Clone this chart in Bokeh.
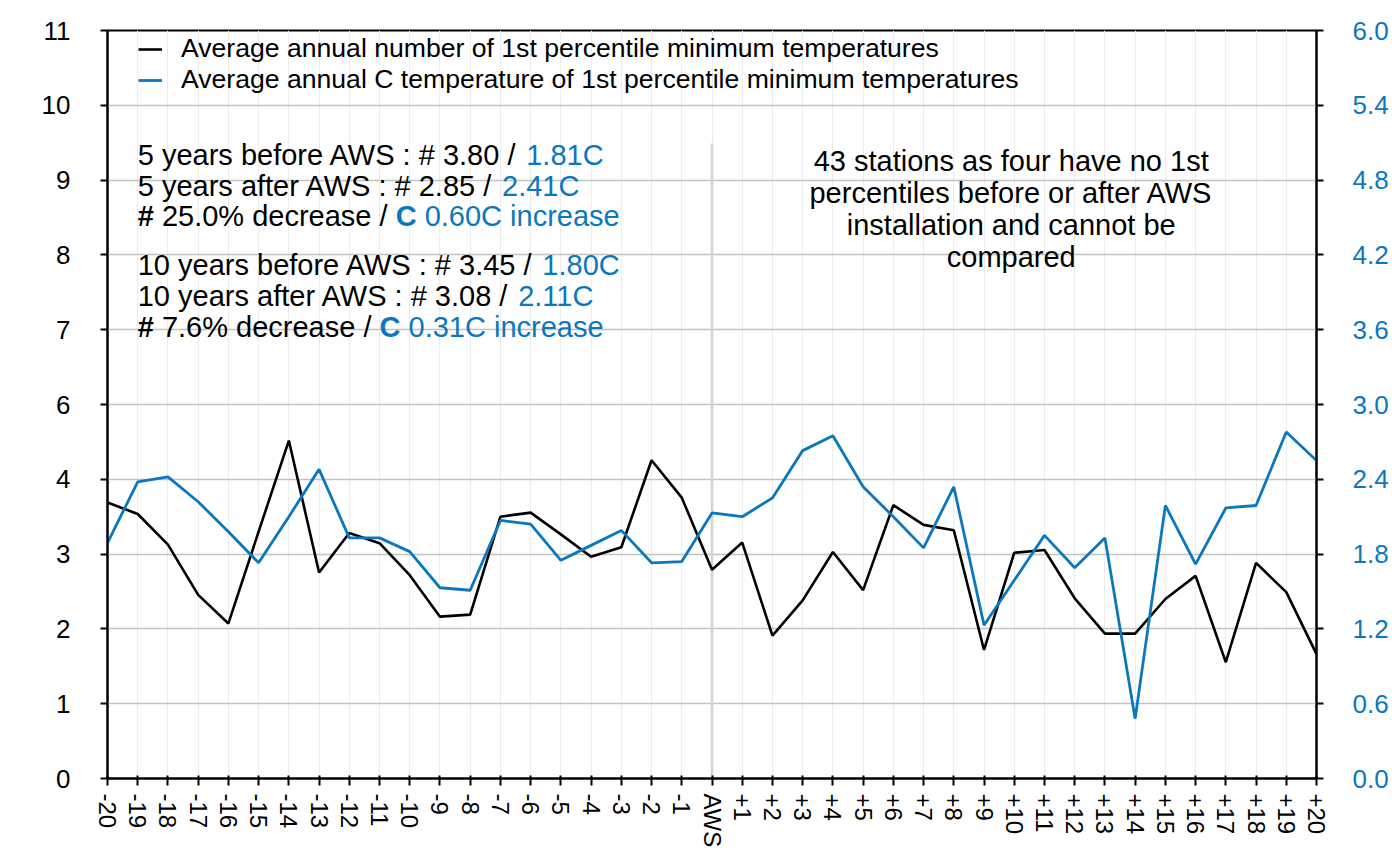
import math
from bokeh.plotting import figure
from bokeh.models import Range1d, LinearAxis, FixedTicker, Legend, LegendItem, Label
from bokeh.embed import file_html
from bokeh.resources import INLINE

# ---------------- data ----------------
years = [-20, -19, -18, -17, -16, -15, -14, -13, -12, -11, -10, -9, -8, -7, -6, -5, -4, -3, -2, -1,
         0, 1, 2, 3, 4, 5, 6, 7, 8, 9, 10, 11, 12, 13, 14, 15, 16, 17, 18, 19, 20]
x_tick_labels = ["-20", "-19", "-18", "-17", "-16", "-15", "-14", "-13", "-12", "-11", "-10",
                 "-9", "-8", "-7", "-6", "-5", "-4", "-3", "-2", "-1", "AWS",
                 "+1", "+2", "+3", "+4", "+5", "+6", "+7", "+8", "+9", "+10",
                 "+11", "+12", "+13", "+14", "+15", "+16", "+17", "+18", "+19", "+20"]

count_values = [4.06, 3.89, 3.44, 2.70, 2.28, 3.63, 4.97, 3.03, 3.61, 3.46,
                2.99, 2.38, 2.41, 3.85, 3.91, 3.59, 3.26, 3.40, 4.68, 4.13,
                3.07,
                3.47, 2.10, 2.62, 3.33, 2.77, 4.02, 3.73, 3.65, 1.89, 3.32,
                3.36, 2.65, 2.13, 2.13, 2.64, 2.98, 1.71, 3.17, 2.74, 1.83]

temp_values = [1.89, 2.38, 2.42, 2.22, 1.98, 1.73, 2.10, 2.48, 1.93, 1.93,
               1.82, 1.53, 1.51, 2.07, 2.04, 1.75, 1.87, 1.99, 1.73, 1.74,
               2.13,
               2.10, 2.25, 2.63, 2.75, 2.34, 2.10, 1.85, 2.34, 1.23, 1.59,
               1.95, 1.69, 1.93, 0.48, 2.19, 1.72, 2.17, 2.19, 2.78, 2.55]

left_ticks = [0, 1.1, 2.2, 3.3, 4.4, 5.5, 6.6, 7.7, 8.8, 9.9, 11]
left_tick_labels = ["0", "1", "2", "3", "4", "6", "7", "8", "9", "10", "11"]
right_ticks = [0, 0.6, 1.2, 1.8, 2.4, 3.0, 3.6, 4.2, 4.8, 5.4, 6.0]
right_tick_labels = ["0.0", "0.6", "1.2", "1.8", "2.4", "3.0", "3.6", "4.2", "4.8", "5.4", "6.0"]

aws_divider_x = [0, 0]
aws_divider_y = [0, 9.34]

legend_labels = ["Average annual number of 1st percentile minimum temperatures",
                 "Average annual C temperature of 1st percentile minimum temperatures"]

BLACK = "#000000"
BLUE = "#0b78bd"
FONT = "Liberation Sans"

# annotation text: (text, colour, style)
left_notes = [
    [("5 years before AWS : # 3.80 / ", BLACK, "normal"), ("1.81C", BLUE, "normal")],
    [("5 years after AWS : # 2.85 / ", BLACK, "normal"), ("2.41C", BLUE, "normal")],
    [("#", BLACK, "bold"), (" 25.0% decrease / ", BLACK, "normal"), ("C", BLUE, "bold"),
     (" 0.60C increase", BLUE, "normal")],
    [("10 years before AWS : # 3.45 / ", BLACK, "normal"), ("1.80C", BLUE, "normal")],
    [("10 years after AWS : # 3.08 / ", BLACK, "normal"), ("2.11C", BLUE, "normal")],
    [("#", BLACK, "bold"), (" 7.6% decrease / ", BLACK, "normal"), ("C", BLUE, "bold"),
     (" 0.31C increase", BLUE, "normal")],
]
left_notes_x = -19.0
left_notes_y = [9.17, 8.715, 8.275, 7.557, 7.102, 6.633]

right_notes = ["43 stations as four have no 1st",
               "percentiles before or after AWS",
               "installation and cannot be",
               "compared"]
right_notes_x = 9.9
right_notes_y = [9.077, 8.608, 8.139, 7.669]

# Arial / Liberation Sans advance widths (per 1000 em)
W = {' ': 278, '.': 278, ':': 278, '/': 278, '#': 556, '%': 889, '-': 333, '+': 584,
     'A': 667, 'C': 722, 'S': 667, 'W': 944}
for c in "0123456789":
    W[c] = 556
W.update({'a': 556, 'b': 556, 'c': 500, 'd': 556, 'e': 556, 'f': 278, 'g': 556, 'h': 556,
          'i': 222, 'j': 222, 'k': 500, 'l': 222, 'm': 833, 'n': 556, 'o': 556, 'p': 556,
          'q': 556, 'r': 333, 's': 500, 't': 278, 'u': 556, 'v': 500, 'w': 722, 'x': 500,
          'y': 500, 'z': 500})


def tw(s, size):
    return sum(W.get(ch, 556) for ch in s) * size / 1000.0


# ---------------- figure ----------------
p = figure(width=1392, height=850, output_backend="svg", toolbar_location=None,
           x_range=Range1d(-20, 20), y_range=Range1d(0, 11),
           min_border_left=107, min_border_right=76, min_border_top=30, min_border_bottom=0)
p.background_fill_color = "white"
p.border_fill_color = "white"
p.outline_line_color = "black"
p.outline_line_width = 2

p.extra_y_ranges = {"temp": Range1d(0, 6)}

# x axis
xa = p.xaxis[0]
xa.ticker = FixedTicker(ticks=years)
xa.major_label_overrides = dict(zip(years, x_tick_labels))
xa.major_label_orientation = -math.pi / 2
xa.major_label_text_font = FONT
xa.major_label_text_font_size = "24px"
xa.major_label_text_color = "black"
xa.major_label_standoff = 8
xa.major_tick_in = 3
xa.major_tick_out = 7
xa.minor_tick_line_color = None
xa.axis_line_color = "black"
xa.axis_line_width = 2
xa.major_tick_line_width = 2

# left axis
ya = p.yaxis[0]
ya.ticker = FixedTicker(ticks=left_ticks)
ya.major_label_overrides = dict(zip(left_ticks, left_tick_labels))
ya.major_label_text_font = FONT
ya.major_label_text_font_size = "26px"
ya.major_label_text_color = "black"
ya.major_label_standoff = 30
ya.major_tick_in = 0
ya.major_tick_out = 7
ya.minor_tick_line_color = None
ya.axis_line_width = 2
ya.major_tick_line_width = 2

# right axis
ra = LinearAxis(y_range_name="temp", ticker=FixedTicker(ticks=right_ticks))
ra.major_label_overrides = dict(zip(right_ticks, right_tick_labels))
ra.major_label_text_font = FONT
ra.major_label_text_font_size = "26px"
ra.major_label_text_color = BLUE
ra.major_label_standoff = 29
ra.major_tick_in = 0
ra.major_tick_out = 7
ra.minor_tick_line_color = None
ra.axis_line_width = 2
ra.major_tick_line_width = 2
p.add_layout(ra, "right")

# grids
p.xgrid.grid_line_color = "#ececec"
p.xgrid.grid_line_width = 1
p.ygrid.grid_line_color = "#c2c2c2"
p.ygrid.grid_line_width = 1.5

# AWS divider
p.line(aws_divider_x, aws_divider_y, line_color="#d2d2d2", line_width=2.5)

# series
r_count = p.line(years, count_values, line_color=BLACK, line_width=2.6)
r_temp = p.line(years, temp_values, line_color=BLUE, line_width=2.8, y_range_name="temp")

legend = Legend(items=[LegendItem(label=legend_labels[0], renderers=[r_count]),
                       LegendItem(label=legend_labels[1], renderers=[r_temp])],
                location=(31, 683))
legend.label_text_font = FONT
legend.label_text_font_size = "26.6px"
legend.label_text_color = "black"
legend.glyph_width = 24
legend.glyph_height = 20
legend.label_height = 20
legend.label_standoff = 19
legend.spacing = 0
legend.padding = 0
legend.margin = 0
legend.border_line_color = None
legend.background_fill_alpha = 0
p.add_layout(legend)

# left annotation block
NOTE_SIZE = 29
for segs, yv in zip(left_notes, left_notes_y):
    offset = 0.0
    for text, col, style in segs:
        lead = len(text) - len(text.lstrip(" "))
        p.add_layout(Label(x=left_notes_x, y=yv, x_offset=offset + tw(" " * lead, NOTE_SIZE),
                           text=text.strip(), text_color=col, text_font=FONT,
                           text_font_size=f"{NOTE_SIZE}px", text_font_style=style,
                           text_baseline="alphabetic", text_align="left"))
        offset += tw(text, NOTE_SIZE)

# right annotation block
for text, yv in zip(right_notes, right_notes_y):
    p.add_layout(Label(x=right_notes_x, y=yv, text=text, text_color="black", text_font=FONT,
                       text_font_size=f"{NOTE_SIZE}px", text_baseline="alphabetic",
                       text_align="center"))

open("out.html", "w").write(file_html(p, INLINE))
